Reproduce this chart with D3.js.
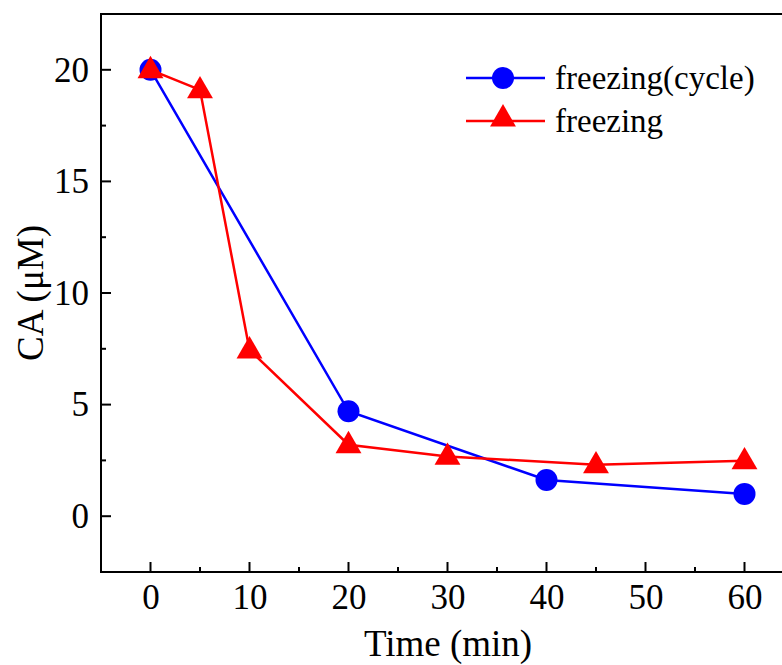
<!DOCTYPE html>
<html>
<head>
<meta charset="utf-8">
<script src="https://cdn.jsdelivr.net/npm/d3@7"></script>
<style>
  html, body { margin: 0; padding: 0; background: #fff; overflow: hidden; }
  svg text { font-family: "Liberation Serif", "Times New Roman", serif; }
</style>
</head>
<body>
<div class="container"></div>
<script>
const cycleTime = [0, 20, 40, 60];
const cycleCA = [20, 4.7, 1.62, 1.0];
const freezeTime = [0, 5, 10, 20, 30, 45, 60];
const freezeCA = [20, 19.1, 7.45, 3.2, 2.68, 2.3, 2.48];
const xTicks = [0, 10, 20, 30, 40, 50, 60];
const yTicks = [0, 5, 10, 15, 20];
const seriesNames = ["freezing(cycle)", "freezing"];

const width = 782, height = 665;
const margin = { left: 101, top: 14, bottom: 93 };

const svg = d3.select(".container")
  .append("svg")
  .attr("width", width)
  .attr("height", height);

const x = d3.scaleLinear().domain([-5, 65]).range([margin.left, margin.left + 70 * 9.9]);
const y = d3.scaleLinear().domain([-2.5, 22.5]).range([height - margin.bottom, margin.top]);

// frame
svg.append("rect")
  .attr("x", x(-5)).attr("y", y(22.5))
  .attr("width", x(65) - x(-5)).attr("height", y(-2.5) - y(22.5))
  .attr("fill", "none").attr("stroke", "#000").attr("stroke-width", 2);

// x axis ticks (inward)
const xAxis = d3.axisBottom(x).tickValues(xTicks).tickSize(0).tickPadding(12);
const gx = svg.append("g").attr("class", "axis")
  .attr("transform", `translate(0,${y(-2.5)})`).call(xAxis);
gx.select(".domain").remove();
gx.attr("font-family", null);
gx.selectAll("text").attr("font-size", 35).attr("fill", "#000").attr("dy", "0.71em");
svg.append("g").selectAll("line")
  .data(d3.range(0, 65, 5))
  .join("line")
  .attr("x1", d => x(d)).attr("x2", d => x(d))
  .attr("y1", y(-2.5)).attr("y2", d => y(-2.5) - (d % 10 === 0 ? 10 : 5))
  .attr("stroke", "#000").attr("stroke-width", 2);

// y axis ticks (inward)
const yAxis = d3.axisLeft(y).tickValues(yTicks).tickSize(0).tickPadding(12);
const gy = svg.append("g").attr("class", "axis")
  .attr("transform", `translate(${x(-5)},0)`).call(yAxis);
gy.select(".domain").remove();
gy.attr("font-family", null);
gy.selectAll("text").attr("font-size", 35).attr("fill", "#000");
svg.append("g").selectAll("line")
  .data(d3.range(0, 22.5, 2.5))
  .join("line")
  .attr("y1", d => y(d)).attr("y2", d => y(d))
  .attr("x1", x(-5)).attr("x2", d => x(-5) + (d % 5 === 0 ? 10 : 5))
  .attr("stroke", "#000").attr("stroke-width", 2);

// axis titles
svg.append("text")
  .attr("x", 448).attr("y", 656)
  .attr("text-anchor", "middle")
  .attr("font-size", 37)
  .text("Time (min)");
svg.append("text")
  .attr("transform", `translate(43,${y(10)}) rotate(-90)`)
  .attr("text-anchor", "middle")
  .attr("font-size", 37)
  .text("CA (μM)");

const line = d3.line().x(d => x(d[0])).y(d => y(d[1]));
const cycleData = d3.zip(cycleTime, cycleCA);
const freezeData = d3.zip(freezeTime, freezeCA);
const tri = d3.symbol().type(d3.symbolTriangle).size(290);

svg.append("path").datum(cycleData).attr("d", line)
  .attr("fill", "none").attr("stroke", "#0000ff").attr("stroke-width", 2.5);
svg.append("g").selectAll("circle").data(cycleData).join("circle")
  .attr("cx", d => x(d[0])).attr("cy", d => y(d[1])).attr("r", 11)
  .attr("fill", "#0000ff");

svg.append("path").datum(freezeData).attr("d", line)
  .attr("fill", "none").attr("stroke", "#ff0000").attr("stroke-width", 2.5);
svg.append("g").selectAll("path").data(freezeData).join("path")
  .attr("d", tri)
  .attr("transform", d => `translate(${x(d[0])},${y(d[1]) + 1})`)
  .attr("fill", "#ff0000");

// legend
const legend = svg.append("g").attr("transform", "translate(466,78)");
const colors = ["#0000ff", "#ff0000"];
seriesNames.forEach((name, i) => {
  const g = legend.append("g").attr("transform", `translate(0,${i * 43})`);
  g.append("line").attr("x1", 0).attr("x2", 79).attr("y1", 0).attr("y2", 0)
    .attr("stroke", colors[i]).attr("stroke-width", 2.5);
  if (i === 0) {
    g.append("circle").attr("cx", 37).attr("cy", 0).attr("r", 11).attr("fill", colors[i]);
  } else {
    g.append("path").attr("d", tri).attr("transform", "translate(37,-2)").attr("fill", colors[i]);
  }
  g.append("text").attr("x", 89).attr("y", 11)
    .attr("font-size", 33)
    .text(name);
});
</script>
</body>
</html>
